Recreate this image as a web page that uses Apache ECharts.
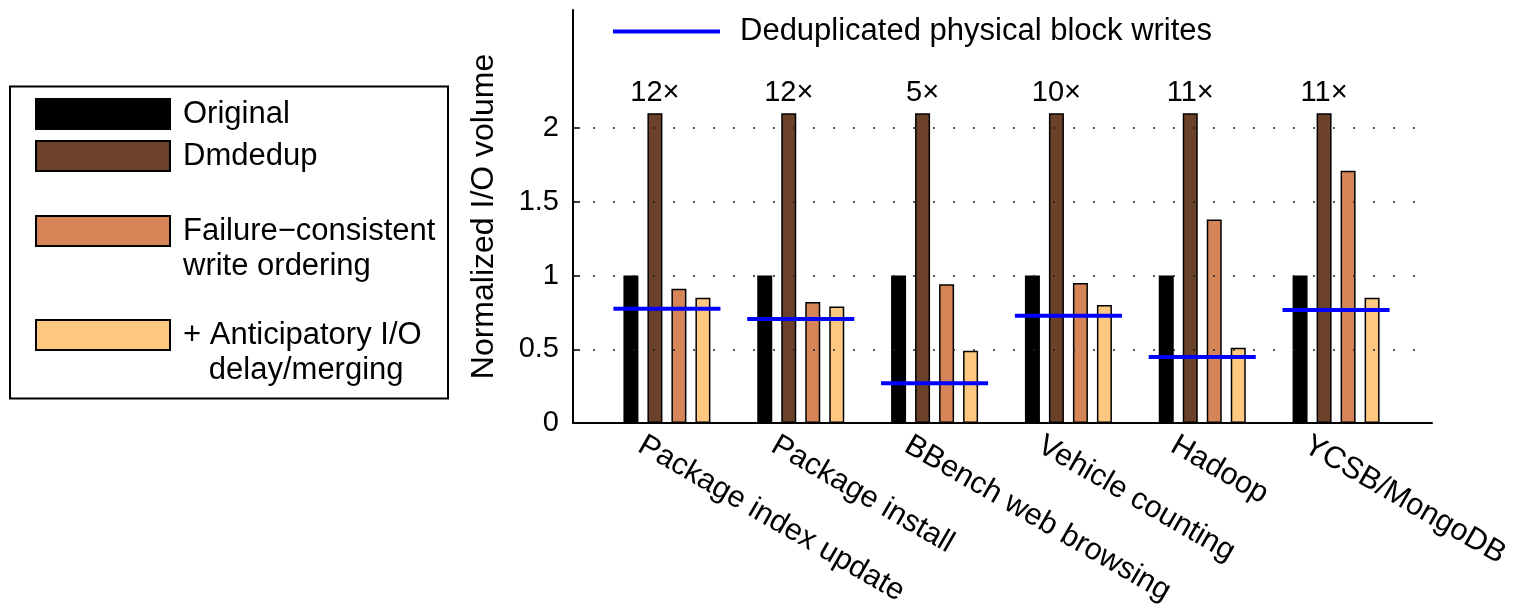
<!DOCTYPE html>
<html><head><meta charset="utf-8">
<script src="https://cdn.jsdelivr.net/npm/echarts@6/dist/echarts.min.js"></script>
<style>html,body{margin:0;padding:0;background:#fff}#c{width:1513px;height:609px}</style>
</head><body><div id="c"></div>
<script>
const categories = ['Package index update', 'Package install', 'BBench web browsing', 'Vehicle counting', 'Hadoop', 'YCSB/MongoDB'];
const original = [1, 1, 1, 1, 1, 1];
const dmdedupBar = [2.1, 2.1, 2.1, 2.1, 2.1, 2.1];
const dmdedupLabels = ['12×', '12×', '5×', '10×', '11×', '11×'];
const failureConsistent = [0.91, 0.82, 0.94, 0.95, 1.38, 1.71];
const anticipatory = [0.85, 0.79, 0.49, 0.80, 0.51, 0.85];
const dedupPhysical = [0.775, 0.705, 0.27, 0.727, 0.447, 0.766];
const yTicks = [0, 0.5, 1, 1.5, 2];

const FONT = "'Liberation Sans', Arial, Helvetica, sans-serif";
const names = {
  orig: 'Original',
  dm: 'Dmdedup',
  fc: 'Failure−consistent write ordering',
  an: '+ Anticipatory I/O delay/merging',
  dd: 'Deduplicated physical block writes'
};
const legendText = {};
legendText[names.orig] = 'Original';
legendText[names.dm] = 'Dmdedup';
legendText[names.fc] = '\nFailure−consistent\nwrite ordering';
legendText[names.an] = '\n+ Anticipatory I/O\n   delay/merging';
legendText[names.dd] = 'Deduplicated physical block writes';

function barSeries(name, data, color, extra) {
  return Object.assign({
    name: name, type: 'bar', xAxisIndex: 1, yAxisIndex: 1,
    data: data, barWidth: 15, barGap: '60%', z: 3,
    itemStyle: { color: color, borderColor: '#000', borderWidth: 1.5 }
  }, extra || {});
}

function boxLegend(name, top) {
  return {
    data: [{ name: name, icon: 'rect' }], orient: 'vertical', left: 35, top: top, padding: 0,
    itemWidth: 134, itemHeight: 30, selectedMode: false,
    formatter: n => legendText[n],
    textStyle: {
      fontSize: 31, fontFamily: FONT, color: '#000', lineHeight: 35,
      padding: [0, 0, 0, 8]
    }
  };
}

const chart = echarts.init(document.getElementById('c'), null, { renderer: 'canvas' });
chart.setOption({
  animation: false,
  backgroundColor: '#fff',
  textStyle: { fontFamily: FONT },
  grid: [
    { left: 573, top: 10, width: 859, height: 413 },
    { left: 600, top: 10, width: 803, height: 413 },
    { left: 574, top: 10, width: 803, height: 413 }
  ],
  xAxis: [
    { gridIndex: 0, type: 'value', min: 0, max: 1,
      axisLine: { show: true, lineStyle: { color: '#000', width: 2 } },
      axisTick: { show: false }, axisLabel: { show: false }, splitLine: { show: false } },
    { gridIndex: 1, type: 'category', data: categories,
      axisLine: { show: false }, axisTick: { show: false }, axisLabel: { show: false }, splitLine: { show: false } },
    { gridIndex: 2, type: 'category', data: categories,
      axisLine: { show: false }, axisTick: { show: false }, splitLine: { show: false },
      axisLabel: { show: true, interval: 0, rotate: -30, margin: 28, fontSize: 30.5, color: '#000', fontFamily: FONT } }
  ],
  yAxis: [
    { gridIndex: 0, type: 'value', min: 0, max: 2.8,
      name: 'Normalized I/O volume', nameLocation: 'middle', nameGap: 73,
      nameTextStyle: { fontSize: 32, color: '#000', fontFamily: FONT },
      axisLine: { show: true, lineStyle: { color: '#000', width: 2 } },
      axisTick: { show: true, inside: true, length: 7, customValues: yTicks, lineStyle: { color: '#000', width: 1.5 } },
      axisLabel: { show: true, customValues: yTicks, margin: 14, fontSize: 29, color: '#000', fontFamily: FONT,
                   formatter: v => String(v) },
      splitLine: { show: false } },
    { gridIndex: 1, type: 'value', min: 0, max: 2.8, show: false },
    { gridIndex: 2, type: 'value', min: 0, max: 1, show: false }
  ],
  legend: [
    boxLegend(names.orig, 96.5),
    boxLegend(names.dm, 138.5),
    boxLegend(names.fc, 178.5),
    boxLegend(names.an, 282.5),
    { data: [{ name: names.dd, icon: 'rect' }], left: 613, top: 16, padding: 0,
      itemWidth: 107, itemHeight: 4, selectedMode: false,
      formatter: n => legendText[n],
      textStyle: { fontSize: 31, fontFamily: FONT, color: '#000', lineHeight: 30, padding: [0, 0, 0, 15] } }
  ],
  graphic: [
    { type: 'rect', left: 7.5, top: 84, shape: { width: 438, height: 312 },
      style: { fill: 'none', stroke: '#000', lineWidth: 2 }, silent: true }
  ],
  series: [
    { name: 'gridlines', type: 'line', xAxisIndex: 0, yAxisIndex: 0, data: [], z: 1, silent: true,
      markLine: { symbol: 'none', silent: true, label: { show: false },
        lineStyle: { color: '#222', width: 1.5, type: [2, 18], dashOffset: 0 },
        emphasis: { disabled: true },
        data: yTicks.filter(v => v > 0).map(v => ({ yAxis: v })) } },
    barSeries(names.orig, original, '#000000'),
    barSeries(names.dm, dmdedupBar, '#6B4129', {
      label: { show: true, position: 'top', distance: 6, fontSize: 29, color: '#000', fontFamily: FONT,
               formatter: p => dmdedupLabels[p.dataIndex] } }),
    barSeries(names.fc, failureConsistent, '#D58558'),
    barSeries(names.an, anticipatory, '#FFC880'),
    { name: names.dd, type: 'custom', xAxisIndex: 1, yAxisIndex: 1, z: 5,
      itemStyle: { color: '#0000FF' },
      data: dedupPhysical.map((v, i) => [i, v]),
      encode: { x: 0, y: 1 },
      renderItem: function (params, api) {
        const c = api.coord([api.value(0), api.value(1)]);
        const bw = api.size([1, 0])[0];
        return { type: 'line',
          shape: { x1: c[0] - 0.4 * bw, y1: c[1], x2: c[0] + 0.4 * bw, y2: c[1] },
          style: { stroke: '#0000FF', lineWidth: 4 } };
      } }
  ]
});
</script></body></html>
